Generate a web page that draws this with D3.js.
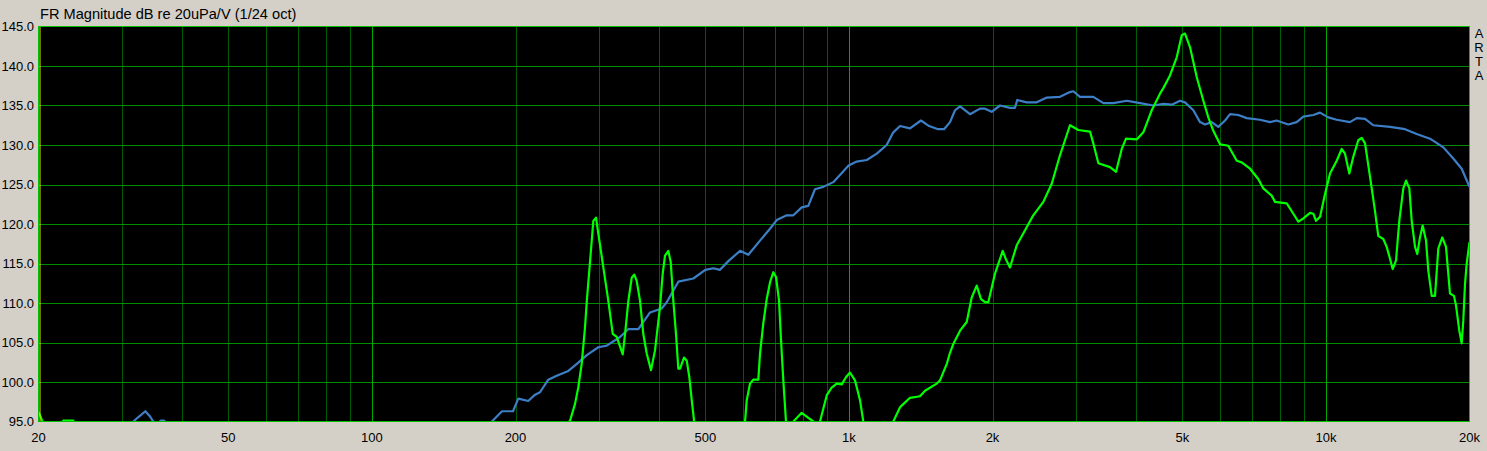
<!DOCTYPE html>
<html><head><meta charset="utf-8">
<script src="https://cdn.jsdelivr.net/npm/d3@7"></script>
<style>
html,body{margin:0;padding:0;background:#d4d0c8;}
svg{display:block;}
text{font-family:"Liberation Sans",Arial,sans-serif;font-size:13px;fill:#000;}
</style></head>
<body><svg id="c" width="1487" height="451"></svg>
<script>
const title = "FR Magnitude dB re 20uPa/V (1/24 oct)";
const sideLabel = ["A","R","T","A"];
const yTicks = [95,100,105,110,115,120,125,130,135,140,145];
const xTickVals = [20,50,100,200,500,1000,2000,5000,10000,20000];
const xTickLabels = ["20","50","100","200","500","1k","2k","5k","10k","20k"];
const majorGrid = [100,1000,10000];

const blueFreq = [20,26,31.1,32.3,33.5,34.3,34.8,35.6,36.1,36.7,37.2,55.5,114.5,168.5,178.5,187.4,197.6,202.7,212.7,219.8,225.1,234.3,244,258.1,268.9,282.2,298.3,310.7,331.3,344.9,361.9,382.9,405,415,438.9,471.9,500,519.7,536.8,558.7,591.3,615.4,651.1,683.2,705.7,740.6,764.8,796.2,822,848.9,883.7,927.5,998.6,1038,1090,1144,1200,1239,1280,1343,1416,1473,1538,1583,1629,1669,1710,1794,1883,1929,1992,2074,2176,2229,2254,2359,2476,2599,2770,2907,2954,3050,3254,3416,3584,3824,4077,4347,4562,4751,4945,5065,5273,5446,5578,5762,5949,6145,6295,6551,6823,7275,7634,7884,8341,8685,8967,9410,9719,10116,10535,11232,11603,12078,12571,13627,14651,15499,16530,17628,18496,19260,20000];
const blueDb = [93.5,94.0,94.6,95.5,96.3,95.6,95.0,94.8,95.1,95.1,94.7,93,92.5,94.0,95.0,96.3,96.3,97.9,97.6,98.4,98.7,100.3,100.8,101.4,102.3,103.4,104.4,104.6,105.7,106.7,106.7,108.8,109.3,110.1,112.7,113.1,114.2,114.4,114.2,115.3,116.6,116.1,117.9,119.4,120.5,121.1,121.1,122.1,122.3,124.4,124.7,125.3,127.4,127.9,128.1,128.9,130.0,131.6,132.4,132.1,133.1,132.4,132.0,132.0,132.9,134.4,134.9,133.9,134.6,134.6,134.2,135.0,134.7,134.7,135.7,135.4,135.4,136.0,136.1,136.7,136.8,136.1,136.1,135.3,135.3,135.6,135.3,135.0,135.2,135.1,135.6,135.4,134.4,132.9,132.6,132.9,132.3,133.1,133.9,133.8,133.4,133.2,132.9,133.1,132.6,132.9,133.6,133.8,134.1,133.5,133.2,132.9,133.4,133.3,132.5,132.3,132.0,131.4,130.8,129.7,128.3,127.0,124.7];

const greenFreq = [20,20.24,20.53,21.65,22.4,22.54,23.66,23.85,34.3,70.7,145.8,236.2,254,260.2,266.5,270.8,275.3,279.7,282.2,286.6,291.2,295,298.3,305.6,313,319.8,326,335.6,339.4,344.9,350.5,354.9,359,364.8,370.6,376.8,384.7,392.2,401.8,407,411.6,418.2,423.1,428.4,434,438.9,442.6,451.1,457.1,462.9,468.3,473.5,488,536.8,591.3,605.7,610.7,620.5,630.4,645.8,651.1,661.4,672.5,683.3,694.3,703.4,713.7,720.6,728.6,738.1,748,764.8,796.2,820.8,842.2,854,869.8,898.4,920.3,942.8,965.9,986,1005,1030,1055,1072,1091,1190,1239,1280,1300,1343,1409,1444,1528,1552,1604,1629,1655,1710,1766,1809,1853,1892,1929,1960,2024,2101,2135,2176,2248,2359,2435,2556,2662,2770,2907,3026,3202,3254,3334,3527,3631,3732,3810,4012,4142,4314,4489,4562,4711,4867,4986,5065,5189,5360,5534,5669,5807,5998,6243,6502,6659,6933,7214,7393,7697,7821,8277,8544,8753,8967,9262,9410,9533,9719,9957,10200,10535,10792,10965,11197,11413,11692,11887,12078,12372,12671,12876,13190,13410,13627,13804,14028,14252,14529,14725,14961,15130,15375,15542,15747,15952,16214,16394,16666,16932,17205,17538,17854,18202,18557,18738,19038,19260,19410,19570,19732,20000];
const greenDb = [96.2,95.5,94.5,94.0,94.9,95.1,95.1,94.7,93,92,91,93,94.5,95.1,97.2,99.3,102.3,106.9,110.3,115.2,120.4,120.8,118.8,114.5,110.3,106.1,105.7,103.5,106.1,110.3,113.2,113.6,112.8,110.3,106.1,103.6,101.5,104.0,109.5,113.7,116.0,116.6,115.2,110.3,106.1,101.7,101.7,103.1,102.7,100.6,97.7,95.1,92,90,93,95.0,97.7,99.8,100.3,100.3,103.6,107.4,110.5,112.6,113.9,113.3,110.3,105.3,100.2,95.0,93.5,95.0,96.1,95.5,95.0,94.2,95.0,98.3,99.3,99.8,99.7,100.6,101.2,100.2,97.7,95.0,93.5,93,95.0,96.8,97.2,98.0,98.2,98.9,99.8,100.2,102.3,103.7,104.8,106.5,107.6,110.7,112.2,110.5,110.1,110.1,113.7,116.6,115.5,114.5,117.3,119.6,121.1,122.8,125.1,128.7,132.5,131.9,131.7,130.2,127.7,127.2,126.6,129.5,130.8,130.7,131.6,134.4,136.5,137.2,138.8,141.1,143.9,144.1,142.4,138.6,135.6,133.5,131.8,130.1,129.9,128.0,127.8,127.0,125.7,124.5,123.6,122.8,122.6,121.3,120.3,120.7,121.4,121.3,120.4,120.9,123.8,126.4,128.0,129.5,128.9,126.4,128.5,130.6,130.9,130.2,126.0,121.7,118.5,118.1,117.1,115.6,114.3,115.4,120.4,124.5,125.5,124.5,120.4,117.1,116.2,118.3,119.8,117.9,114.1,110.9,110.9,116.9,118.3,117.1,111.2,110.9,109.7,106.5,104.9,107.8,112.4,115.0,117.7];

const svg = d3.select("#c");
const L = 38.5, R = 1469.5, T = 26.5, B = 421.5;
const x = d3.scaleLog().domain([20,20000]).range([L,R]);
const y = d3.scaleLinear().domain([95,145]).range([B,T]);

svg.append("rect").attr("x",L).attr("y",T).attr("width",R-L).attr("height",B-T).attr("fill","#000");

// grid: vertical
const minorV = [];
for (let dec of [10,100,1000,10000]) for (let k=1;k<10;k++){const f=dec*k; if(f>20 && f<20000 && !majorGrid.includes(f)) minorV.push(f);}
const g = svg.append("g");
g.selectAll("line.mv").data(minorV).join("line")
  .attr("x1",d=>Math.round(x(d))+0.5).attr("x2",d=>Math.round(x(d))+0.5)
  .attr("y1",T).attr("y2",B).attr("stroke","#005c00").attr("stroke-width",1);
g.selectAll("line.hz").data(yTicks.slice(1,-1)).join("line")
  .attr("x1",L).attr("x2",R)
  .attr("y1",d=>Math.round(y(d))+0.5).attr("y2",d=>Math.round(y(d))+0.5)
  .attr("stroke","#008c00").attr("stroke-width",1);
g.selectAll("line.Mv").data(majorGrid).join("line")
  .attr("x1",d=>Math.round(x(d))+0.5).attr("x2",d=>Math.round(x(d))+0.5)
  .attr("y1",T).attr("y2",B).attr("stroke","#00a800").attr("stroke-width",1);

// clip
svg.append("clipPath").attr("id","clip").append("rect")
  .attr("x",L).attr("y",T).attr("width",R-L).attr("height",B-T-0.5);

const line = d3.line().x(d=>x(d[0])).y(d=>y(d[1]));
const blue = blueFreq.map((f,i)=>[f,blueDb[i]]);
const green = greenFreq.map((f,i)=>[f,greenDb[i]]);
const curves = svg.append("g").attr("clip-path","url(#clip)");
curves.append("path").datum(blue).attr("d",line).attr("fill","none")
  .attr("stroke","#3d7fc6").attr("stroke-width",2.2).attr("stroke-linejoin","round");
curves.append("path").datum(green).attr("d",line).attr("fill","none")
  .attr("stroke","#00ff00").attr("stroke-width",2.2).attr("stroke-linejoin","round");

// cursor
svg.append("line").attr("x1",L+1.5).attr("x2",L+1.5).attr("y1",T+0.5).attr("y2",B-0.5)
  .attr("stroke","#e8e800").attr("stroke-width",1);

// border
svg.append("rect").attr("x",L).attr("y",T).attr("width",R-L).attr("height",B-T)
  .attr("fill","none").attr("stroke","#00c000").attr("stroke-width",1);

// y labels
svg.selectAll("text.yl").data(yTicks).join("text")
  .attr("x",34).attr("y",d=>y(d)).attr("dy","0.36em").attr("text-anchor","end")
  .text(d=>d.toFixed(1));
// x labels
svg.selectAll("text.xl").data(xTickVals).join("text")
  .attr("x",d=>x(d)).attr("y",442).attr("text-anchor","middle")
  .text((d,i)=>xTickLabels[i]);
// title
svg.append("text").attr("x",40).attr("y",19).style("font-size","14.6px").text(title);
// side label
svg.selectAll("text.side").data(sideLabel).join("text")
  .attr("x",1479).attr("y",(d,i)=>38+i*14).attr("text-anchor","middle").text(d=>d);
</script></body></html>
